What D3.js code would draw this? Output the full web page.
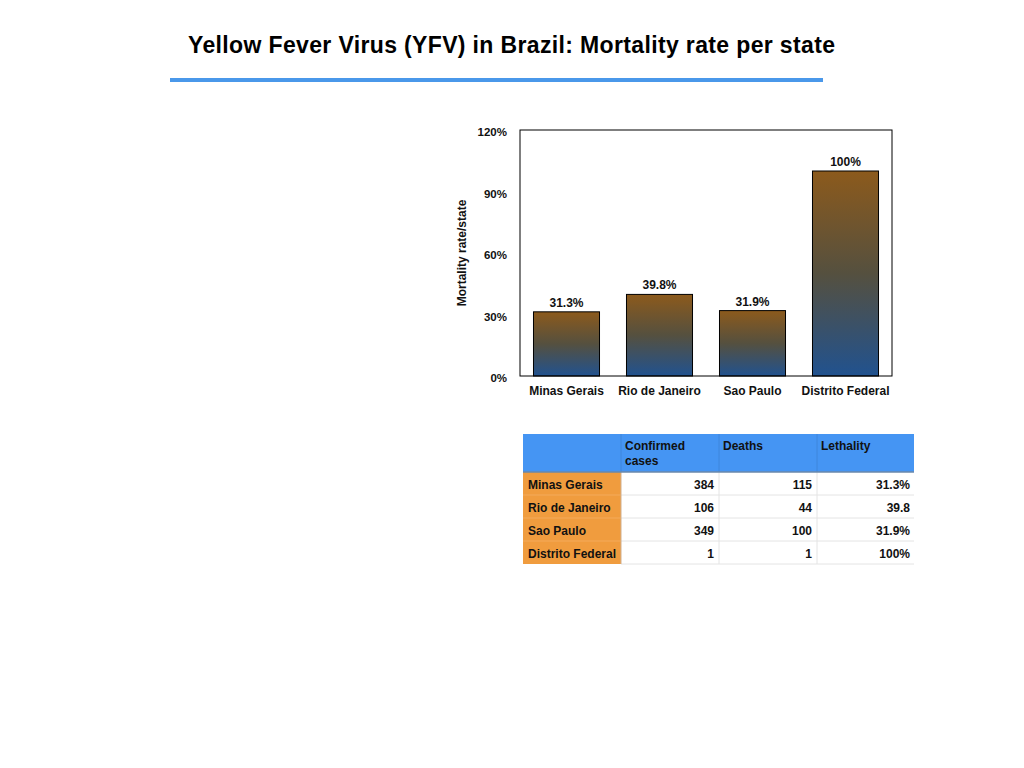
<!DOCTYPE html>
<html>
<head>
<meta charset="utf-8">
<script src="https://cdn.jsdelivr.net/npm/d3@7"></script>
<style>
  html, body { margin: 0; padding: 0; background: #fff; }
  svg { display: block; font-family: "Liberation Sans", Arial, Helvetica, sans-serif; }
</style>
</head>
<body>
<svg id="chart"></svg>
<script>
// Yellow fever mortality per Brazilian state: bar chart + summary table

const STATES     = ['Minas Gerais', 'Rio de Janeiro', 'Sao Paulo', 'Distrito Federal'];
const MORTALITY  = [31.3, 39.8, 31.9, 100];
const BAR_LABELS = ['31.3%', '39.8%', '31.9%', '100%'];
const Y_TICKS    = [0, 30, 60, 90, 120];

const TABLE_HEAD = ['', 'Confirmed\ncases', 'Deaths', 'Lethality'];
const CONFIRMED  = ['384', '106', '349', '1'];
const DEATHS     = ['115', '44', '100', '1'];
const LETHALITY  = ['31.3%', '39.8', '31.9%', '100%'];

const W = 1024, H = 768;
const svg = d3.select('#chart').attr('width', W).attr('height', H);

// ── Title + rule ──────────────────────────────────────────────────────────
svg.append('text')
    .attr('x', 188).attr('y', 53)
    .attr('textLength', 647).attr('lengthAdjust', 'spacing')
    .attr('font-size', '23px').attr('font-weight', 'bold').attr('fill', '#000')
    .text('Yellow Fever Virus (YFV) in Brazil: Mortality rate per state');

svg.append('rect')
    .attr('x', 170).attr('y', 78).attr('width', 653).attr('height', 4)
    .attr('fill', '#4a98ea');

// ── Bar chart ─────────────────────────────────────────────────────────────
const plot = { left: 520, top: 130, right: 892, bottom: 376 };
const iW = plot.right - plot.left, iH = plot.bottom - plot.top;
const g = svg.append('g').attr('transform', `translate(${plot.left},${plot.top})`);

const defs = svg.append('defs');
const grad = defs.append('linearGradient').attr('id', 'bar-grad')
    .attr('x1', 0).attr('y1', 0).attr('x2', 0).attr('y2', 1);
grad.append('stop').attr('offset', '0%').attr('stop-color', '#8c5a1c');
grad.append('stop').attr('offset', '50%').attr('stop-color', '#55503f');
grad.append('stop').attr('offset', '100%').attr('stop-color', '#21528f');

const x = d3.scaleBand().domain(STATES).range([0, iW])
    .paddingInner(0.29).paddingOuter(0.145);
const y = d3.scaleLinear().domain([0, 120]).range([iH, 0]);

const bars = STATES.map((s, i) => ({ s, v: MORTALITY[i], label: BAR_LABELS[i] }));

g.selectAll('.bar')
    .data(bars)
    .join('rect')
    .attr('class', 'bar')
    .attr('x', d => x(d.s))
    .attr('y', d => y(d.v))
    .attr('width', x.bandwidth())
    .attr('height', d => iH - y(d.v))
    .attr('fill', 'url(#bar-grad)')
    .attr('stroke', '#000').attr('stroke-width', 1);

g.selectAll('.bar-label')
    .data(bars)
    .join('text')
    .attr('class', 'bar-label')
    .attr('x', d => x(d.s) + x.bandwidth() / 2)
    .attr('y', d => y(d.v) - 5)
    .attr('text-anchor', 'middle')
    .attr('font-size', '12px').attr('font-weight', 'bold').attr('fill', '#111')
    .text(d => d.label);

// frame
g.append('rect')
    .attr('width', iW).attr('height', iH)
    .attr('fill', 'none').attr('stroke', '#000').attr('stroke-width', 1);

// y axis (labels only)
const yAxis = g.append('g')
    .call(d3.axisLeft(y).tickValues(Y_TICKS).tickFormat(d => d + '%').tickSize(0).tickPadding(13));
yAxis.select('.domain').remove();
yAxis.selectAll('text')
    .attr('dy', '0.5em')
    .attr('font-family', 'Liberation Sans, Arial, sans-serif')
    .attr('font-size', '11.5px').attr('font-weight', 'bold').attr('fill', '#111');

// x axis (labels only)
const xAxis = g.append('g').attr('transform', `translate(0,${iH})`)
    .call(d3.axisBottom(x).tickSize(0).tickPadding(10));
xAxis.select('.domain').remove();
xAxis.selectAll('text')
    .attr('font-family', 'Liberation Sans, Arial, sans-serif')
    .attr('font-size', '12px').attr('font-weight', 'bold').attr('fill', '#111');

g.append('text')
    .attr('transform', 'rotate(-90)')
    .attr('x', -iH / 2).attr('y', -54)
    .attr('text-anchor', 'middle')
    .attr('font-size', '12px').attr('font-weight', 'bold').attr('fill', '#111')
    .text('Mortality rate/state');

// ── Table ────────────────────────────────────────────────────────────────
const tbl = { left: 523, top: 434, colW: 98, headH: 38, rowH: 23 };
const tg = svg.append('g').attr('transform', `translate(${tbl.left},${tbl.top})`);
const tW = tbl.colW * 4 - 1;
const tH = tbl.headH + STATES.length * tbl.rowH;

tg.append('rect').attr('width', tW).attr('height', tbl.headH).attr('fill', '#4595f3');

const rows = STATES.map((s, i) => [s, CONFIRMED[i], DEATHS[i], LETHALITY[i]]);

rows.forEach((r, ri) => {
    const ry = tbl.headH + ri * tbl.rowH;
    tg.append('rect').attr('x', 0).attr('y', ry).attr('width', tbl.colW).attr('height', tbl.rowH)
        .attr('fill', '#f09c3e');
    tg.append('rect').attr('x', tbl.colW).attr('y', ry).attr('width', tW - tbl.colW).attr('height', tbl.rowH)
        .attr('fill', '#fff');
    r.forEach((cell, ci) => {
        const t = tg.append('text')
            .attr('y', ry + tbl.rowH / 2 + 5)
            .attr('font-size', '12px').attr('font-weight', 'bold').attr('fill', '#111')
            .text(cell);
        if (ci === 0) t.attr('x', 5);
        else t.attr('x', (ci + 1) * tbl.colW - 5).attr('text-anchor', 'end');
    });
});

// grid lines
for (let ri = 1; ri <= rows.length; ri++) {
    const ly = tbl.headH + ri * tbl.rowH;
    tg.append('line').attr('x1', tbl.colW).attr('x2', tW).attr('y1', ly).attr('y2', ly)
        .attr('stroke', '#e4e4e4');
    if (ri < rows.length)
        tg.append('line').attr('x1', 0).attr('x2', tbl.colW).attr('y1', ly).attr('y2', ly)
            .attr('stroke', '#f4aa5a');
}
for (let ci = 1; ci < 4; ci++) {
    tg.append('line')
        .attr('x1', ci * tbl.colW).attr('x2', ci * tbl.colW)
        .attr('y1', 0).attr('y2', tbl.headH)
        .attr('stroke', '#3f86dc');
    tg.append('line')
        .attr('x1', ci * tbl.colW).attr('x2', ci * tbl.colW)
        .attr('y1', tbl.headH).attr('y2', tH)
        .attr('stroke', ci === 1 ? '#d0b090' : '#e4e4e4');
}
tg.append('line').attr('x1', 0).attr('x2', tW).attr('y1', tbl.headH).attr('y2', tbl.headH)
    .attr('stroke', '#6a88ab').attr('stroke-width', 1.5);

// header text
TABLE_HEAD.forEach((h, ci) => {
    if (!h) return;
    const t = tg.append('text')
        .attr('x', ci * tbl.colW + 4).attr('y', 16)
        .attr('font-size', '12px').attr('font-weight', 'bold').attr('fill', '#111');
    h.split('\n').forEach((line, li) => {
        t.append('tspan').attr('x', ci * tbl.colW + 4).attr('dy', li ? 15 : 0).text(line);
    });
});
</script>
</body>
</html>
